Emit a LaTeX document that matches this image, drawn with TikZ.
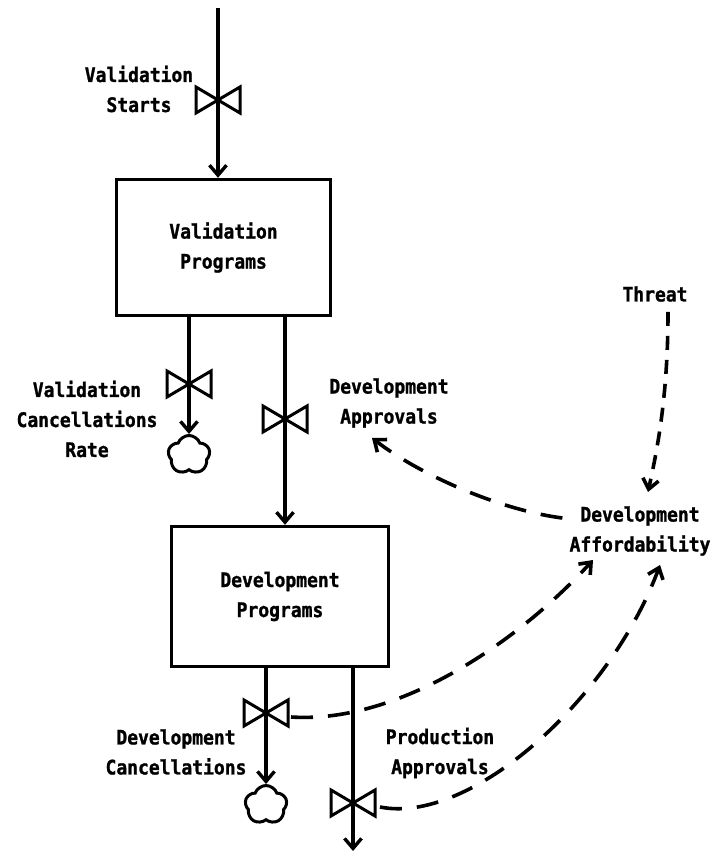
\documentclass[tikz,border=0pt]{standalone}
\usepackage{fontspec}
\newfontfamily\lblfont[FakeStretch=0.9, FakeBold=1.2]{DejaVu Sans Mono}
\usetikzlibrary{arrows.meta,shapes.symbols}

\begin{document}
\begin{tikzpicture}[x=1pt,y=-1pt,
  lbl/.style={font={\lblfont\bfseries\fontsize{20}{30}\selectfont}, align=center, inner sep=0pt},
  stock/.style={lbl, draw, line width=3.4pt, minimum width=214pt, minimum height=136pt},
  flow/.style={line width=3.4pt, -{Straight Barb[length=10pt,width=17pt]}},
  info/.style={line width=3.6pt, dash pattern=on 22pt off 15pt, -{Straight Barb[length=10pt,width=16pt]}},
  valve/.style={minimum width=44pt, minimum height=26pt, inner sep=0pt, outer sep=0pt},
  valvebody/.style={line width=3pt, line join=miter},
  sink/.style={cloud, cloud puffs=5, cloud puff arc=140, aspect=1.05, draw, line width=3pt,
    minimum width=42pt, minimum height=39pt, inner sep=0pt, shape border rotate=18}]
\useasboundingbox (0,0) rectangle (715,853);

% stocks
\node[stock] (vb) at (223.5,247.5) {Validation\\Programs};
\node[stock, minimum width=217pt, minimum height=140pt] (db) at (280,596.5) {Development\\Programs};

% rate valves
\node[valve] (vs)  at (218,100) {};
\node[valve] (vvc) at (189,384) {};
\node[valve] (vda) at (285,419) {};
\node[valve] (vdc) at (266,713) {};
\node[valve] (vpa) at (353,803) {};

% sinks
\node[sink] (sinkV) at (189,455) {};
\node[sink] (sinkD) at (266,805) {};

% source and outflow ends
\coordinate (src) at (218,8);
\coordinate (out) at (353,851);

% labels
\node[lbl] (lStarts) at (139,89) {Validation\\Starts};
\node[lbl] (lVC) at (87,419) {Validation\\Cancellations\\Rate};
\node[lbl] (lDA) at (389,403) {Development\\Approvals};
\node[lbl] (threat) at (655,294) {Threat};
\node[lbl] (afford) at (640,531) {Development\\Affordability};
\node[lbl] (lDC) at (176,752) {Development\\Cancellations};
\node[lbl] (lPA) at (440,753) {Production\\Approvals};

% material flows
\draw[flow] (src) -- (src |- vb.north);
\draw[flow] (vb.south -| vvc) -- (sinkV.north);
\draw[flow] (vb.south -| vda) -- (vda |- db.north);
\draw[flow] (db.south -| vdc) -- (sinkD.north);
\draw[flow] (db.south -| vpa) -- (out);

% valve bodies
\foreach \v in {vs,vvc,vda,vdc,vpa}
  \draw[valvebody] (\v.north west) -- (\v.south west) -- (\v.north east) -- (\v.south east) -- cycle;

% information links
\coordinate (tThreat) at (648,492);
\coordinate (tAppr) at (372,438);
\coordinate (tDc) at (593,560);
\coordinate (tPa) at (660,565);

\draw[info, dash pattern=on 14pt off 10pt] ([shift={(13pt,-10pt)}]threat.south)
  .. controls (668,400) and (656,455) .. (tThreat);
\draw[info] ([shift={(-7pt,13pt)}]afford.west)
  .. controls (500,510) and (420,475) .. (tAppr);
\draw[info] ([shift={(3pt,-4pt)}]vdc.east)
  .. controls (400,724) and (520,640) .. (tDc);
\draw[info] ([shift={(5pt,-4pt)}]vpa.east)
  .. controls (470,825) and (610,700) .. (tPa);
\end{tikzpicture}
\end{document}
